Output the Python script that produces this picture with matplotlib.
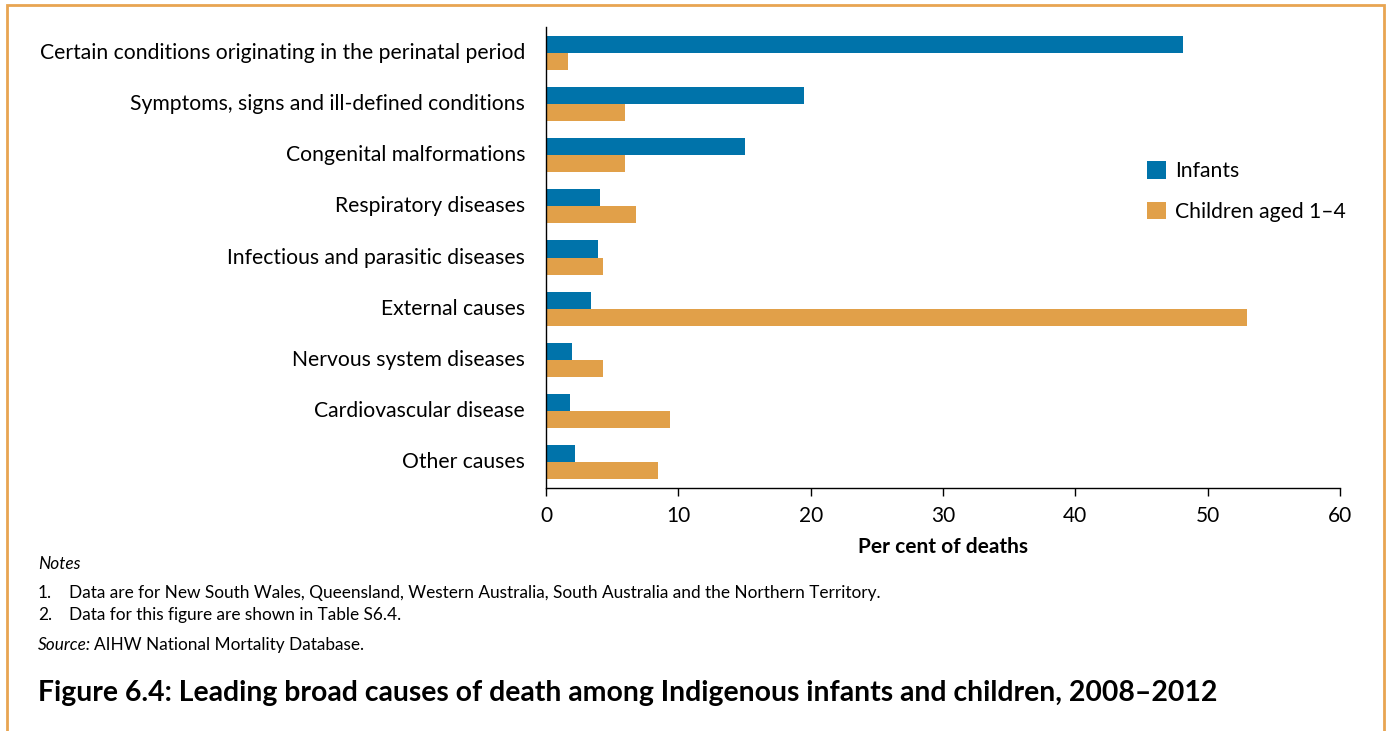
import matplotlib
matplotlib.use("Agg")
import matplotlib.pyplot as plt
import numpy as np
from matplotlib.patches import Rectangle

plt.rcParams['font.family'] = ['Lato', 'DejaVu Sans']

causes = ['Certain conditions originating in the perinatal period',
          'Symptoms, signs and ill-defined conditions',
          'Congenital malformations',
          'Respiratory diseases',
          'Infectious and parasitic diseases',
          'External causes',
          'Nervous system diseases',
          'Cardiovascular disease',
          'Other causes']
infants = [48.1, 19.5, 15.0, 4.1, 3.9, 3.4, 2.0, 1.8, 2.2]
children = [1.7, 6.0, 6.0, 6.8, 4.3, 53.0, 4.3, 9.4, 8.5]

blue = '#0073aa'
orange = '#e1a049'

W, H = 1387, 731
fig = plt.figure(figsize=(W / 100, H / 100), dpi=100)
ax = fig.add_axes([546 / W, 1 - 488 / H, (1340 - 546) / W, (488 - 27) / H])

y = np.arange(len(causes))
h = 0.333
ax.barh(y - h / 2, infants, height=h, color=blue, label='Infants')
ax.barh(y + h / 2, children, height=h, color=orange, label='Children aged 1\u20134')

ax.set_ylim(len(causes) - 0.5, -0.5)
ax.set_xlim(0, 60)
ax.set_xticks(range(0, 61, 10))
ax.set_yticks(y)
ax.set_yticklabels(causes, fontsize=15.2, va='center')
ax.tick_params(axis='y', length=0, pad=15)
ax.tick_params(axis='x', length=6, width=1, labelsize=15, pad=7)
for s in ['top', 'right']:
    ax.spines[s].set_visible(False)
ax.spines['left'].set_linewidth(1)
ax.spines['bottom'].set_linewidth(1)
ax.set_xlabel('Per cent of deaths', fontsize=15, fontweight='bold', labelpad=8)

ax.legend(loc='upper left', bbox_to_anchor=((1139 - 546) / (1340 - 546), 1 - (153 - 27) / (488 - 27)),
          frameon=False, fontsize=15.2, handlelength=0.9, handleheight=0.9,
          labelspacing=0.95, handletextpad=0.4, borderaxespad=0)

# notes
fs = 12.4
fig.text(38 / W, 1 - 564 / H, 'Notes', fontsize=fs, style='italic', va='center')
fig.text(38 / W, 1 - 593 / H, '1.', fontsize=fs, va='center')
fig.text(69 / W, 1 - 593 / H, 'Data are for New South Wales, Queensland, Western Australia, '
         'South Australia and the Northern Territory.', fontsize=fs, va='center')
fig.text(38 / W, 1 - 615 / H, '2.', fontsize=fs, va='center')
fig.text(69 / W, 1 - 615 / H, 'Data for this figure are shown in Table S6.4.', fontsize=fs, va='center')
src = fig.text(38 / W, 1 - 645 / H, 'Source:', fontsize=fs, style='italic', va='center')
fig.canvas.draw()
fig.text(src.get_window_extent().x1 / W + 3 / W, 1 - 645 / H, 'AIHW National Mortality Database.',
         fontsize=fs, va='center')

fig.text(38 / W, 1 - 693 / H,
         'Figure 6.4: Leading broad causes of death among Indigenous infants and children, 2008\u20132012',
         fontsize=20.4, fontweight='bold', va='center')

# orange frame
fig.patches.append(Rectangle((6.5 / W, -0.1), (1384 - 6.5) / W, 1.1 - 5 / H,
                             transform=fig.transFigure, fill=False,
                             edgecolor='#e8a552', linewidth=2))

fig.savefig('out.png', dpi=100)
